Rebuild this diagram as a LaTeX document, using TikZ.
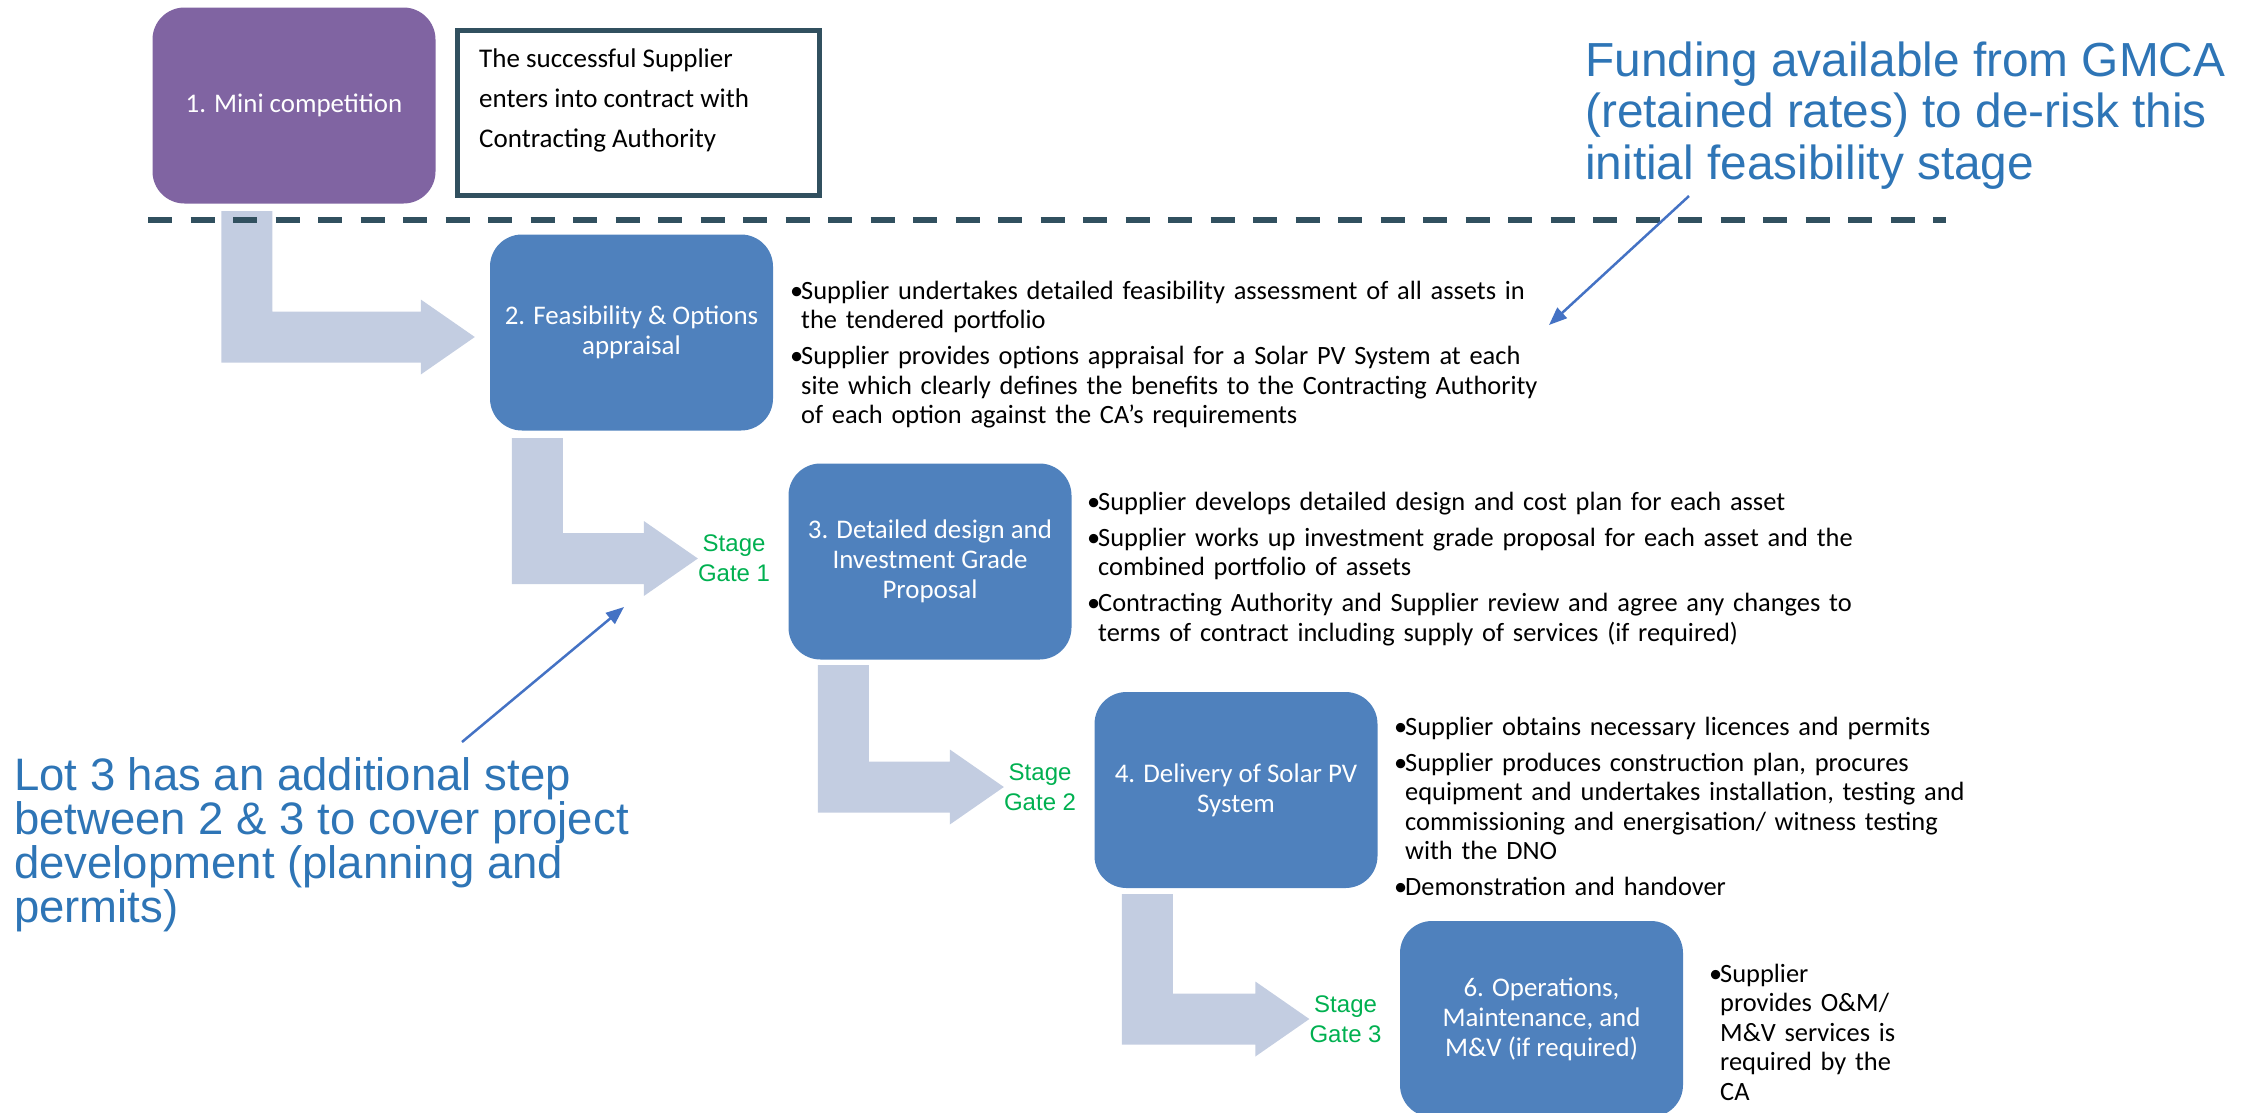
\documentclass[tikz,border=0pt]{standalone}
\usepackage{fontspec}
\setmainfont{Carlito}
\newfontfamily\arialfont{Liberation Sans}
\usetikzlibrary{positioning,calc,arrows.meta}

\definecolor{stagepurple}{HTML}{8064A2}
\definecolor{stageblue}{HTML}{4F81BD}
\definecolor{flowgrey}{HTML}{C3CDE1}
\definecolor{slate}{HTML}{31505F}
\definecolor{notecol}{HTML}{2E75B6}
\definecolor{pointercol}{HTML}{4472C4}
\definecolor{gategreen}{HTML}{00B050}

\newcommand{\bul}{\hangindent=11pt\hangafter=1\makebox[11pt][l]{\textbullet}}

\begin{document}
\begin{tikzpicture}[x=1pt, y=-1pt,
	stage/.style={shape=rectangle, rounded corners=32pt, fill=stageblue, text=white, minimum width=283pt, minimum height=196pt, align=center, inner sep=0pt, font=\fontsize{26.9}{30}\selectfont},
	gate/.style={text=gategreen, align=center, inner sep=0pt, font=\arialfont\fontsize{24}{30}\selectfont},
	bullets/.style={anchor=base west, text width=850pt, inner sep=0pt, font=\fontsize{26.4}{29.5}\selectfont, execute at begin node={\parindent=0pt\parskip=6.5pt}},
	annot/.style={text=notecol, align=left, inner sep=0pt, anchor=base west},
	flow/.style={fill=flowgrey},
	pointer/.style={draw=pointercol, line width=2.5pt, -{Triangle[length=18pt,width=14pt]}}]

	\useasboundingbox (0,0) rectangle (2254,1112);

	\node[stage, fill=stagepurple] (b1) at (294,105.5)  {1. Mini competition};
	\node[stage] (b2) at (631.5,332.5) {2. Feasibility \& Options\\appraisal};
	\node[stage] (b3) at (930,561.5)   {3. Detailed design and\\Investment Grade\\Proposal};
	\node[stage] (b4) at (1236,790)    {4. Delivery of Solar PV\\System};
	\node[stage] (b6) at (1541.5,1019) {6. Operations,\\Maintenance, and\\M\&V (if required)};

	\node[draw=slate, line width=5pt, minimum width=362pt, minimum height=165pt] (note) at (638.5,113) {};
	\node[anchor=base west, align=left, inner sep=0pt, font=\fontsize{27}{40}\selectfont] (notetext) at (479,147)
		{The successful Supplier\\enters into contract with\\Contracting Authority};

	\node[gate, left=18pt of b3, yshift=3pt] (g1) {Stage\\Gate 1};
	\node[gate, left=18pt of b4, yshift=3pt] (g2) {Stage\\Gate 2};
	\node[gate, left=18pt of b6] (g3) {Stage\\Gate 3};

	\coordinate (a1) at ([shift={(69,7.5)}]b1.south west);
	\coordinate (a2) at ([shift={(22,7.5)}]b2.south west);
	\coordinate (a3) at ([shift={(29.5,5.5)}]b3.south west);
	\coordinate (a4) at ([shift={(27.5,6)}]b4.south west);
	\coordinate (t1) at ([shift={(-15,4.5)}]b2.west);

	\fill[flow] (a1) -- ++(51,0) |- ($(t1)+(-54,-25.5)$) -- ++(0,-12) -- (t1) -- ++(-54,37.5) -- ++(0,-12) -| (a1) -- cycle;
	\fill[flow] (a2) -- ++(51,0) |- ($(g1.west)+(-54,-25.5)$) -- ++(0,-12) -- (g1.west) -- ++(-54,37.5) -- ++(0,-12) -| (a2) -- cycle;
	\fill[flow] (a3) -- ++(51,0) |- ($(g2.west)+(-54,-25.5)$) -- ++(0,-12) -- (g2.west) -- ++(-54,37.5) -- ++(0,-12) -| (a3) -- cycle;
	\fill[flow] (a4) -- ++(51,0) |- ($(g3.west)+(-54,-25.5)$) -- ++(0,-12) -- (g3.west) -- ++(-54,37.5) -- ++(0,-12) -| (a4) -- cycle;

	\draw[slate, line width=5.5pt, dash pattern=on 24pt off 18.5pt] (148,220) -- (1946,220);

	\node[bullets] (p2) at (790,299) {\bul Supplier undertakes detailed feasibility assessment of all assets in\newline the tendered portfolio\par
		\bul Supplier provides options appraisal for a Solar PV System at each\newline site which clearly defines the benefits to the Contracting Authority\newline of each option against the CA's requirements\par};
	\node[bullets] (p3) at (1087,510) {\bul Supplier develops detailed design and cost plan for each asset\par
		\bul Supplier works up investment grade proposal for each asset and the\newline combined portfolio of assets\par
		\bul Contracting Authority and Supplier review and agree any changes to\newline terms of contract including supply of services (if required)\par};
	\node[bullets] (p4) at (1394,735) {\bul Supplier obtains necessary licences and permits\par
		\bul Supplier produces construction plan, procures\newline equipment and undertakes installation, testing and\newline commissioning and energisation/ witness testing\newline with the DNO\par
		\bul Demonstration and handover\par};
	\node[bullets] (p6) at (1709,982) {\bul Supplier\newline provides O\&M/\newline M\&V services is\newline required by the\newline CA\par};

	\node[annot, font=\arialfont\fontsize{47.8}{51.5}\selectfont] (fund) at (1585,179)
		{Funding available from GMCA\\(retained rates) to de-risk this\\initial feasibility stage};
	\node[annot, font=\arialfont\fontsize{45.5}{43.7}\selectfont] (lot) at (14,922)
		{Lot 3 has an additional step\\between 2 \& 3 to cover project\\development (planning and\\permits)};

	\coordinate (fundfrom) at (1689,196);
	\coordinate (fundto) at (1549,325);
	\coordinate (lotfrom) at (462,742);
	\coordinate (lotto) at (624,607);
	\draw[pointer] (fundfrom) -- (fundto);
	\draw[pointer] (lotfrom) -- (lotto);

\end{tikzpicture}
\end{document}
